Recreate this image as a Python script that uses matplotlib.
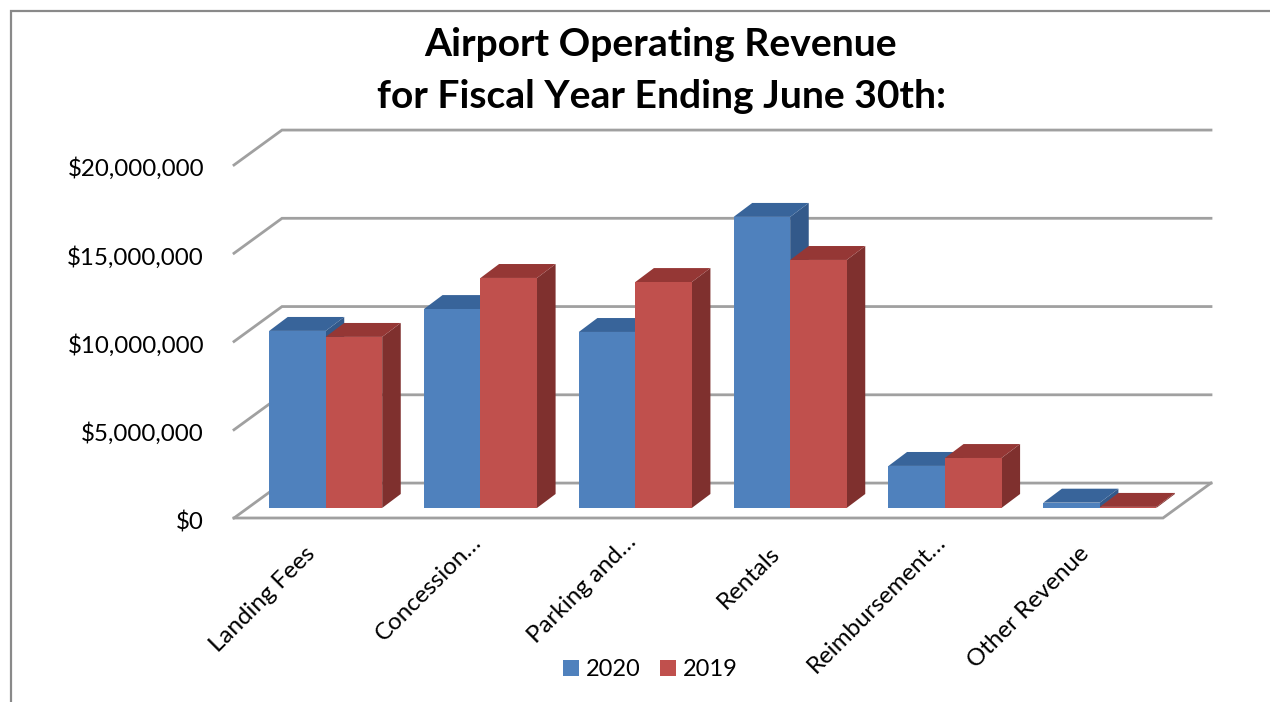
import matplotlib
matplotlib.use('Agg')
import matplotlib.pyplot as plt
from matplotlib.lines import Line2D
from matplotlib.patches import Patch
from matplotlib.ticker import FuncFormatter
from matplotlib.transforms import ScaledTranslation

categories = ['Landing Fees', 'Concession…', 'Parking and…', 'Rentals', 'Reimbursement…', 'Other Revenue']
revenue_2020 = [10030000, 11270000, 9970000, 16490000, 2380000, 300000]
revenue_2019 = [9690000, 13030000, 12800000, 14050000, 2830000, 60000]
y_ticks = [0, 5000000, 10000000, 15000000, 20000000]

BLUE = ('#4F81BD', '#38649A', '#33598A')
RED = ('#C0504D', '#953735', '#7F302E')
GRID = '#A0A0A0'

# depth of the floor and of a bar, in axis units
FLOOR_DX, FLOOR_DY = 0.31, 1980000
BAR_DX, BAR_DY = 0.12, 790000
BAR_SHIFT, BAR_BASE = 0.092, 570000
BAR_WIDTH = 0.365

plt.rcParams['font.family'] = ['Lato', 'DejaVu Sans']


def draw_bar(ax, left, value, colors):
    right = left + BAR_WIDTH
    top = BAR_BASE + value
    ax.fill([right, right + BAR_DX, right + BAR_DX, right],
            [BAR_BASE, BAR_BASE + BAR_DY, top + BAR_DY, top], color=colors[2], lw=0, clip_on=False, zorder=3)
    ax.fill([left, left + BAR_DX, right + BAR_DX, right],
            [top, top + BAR_DY, top + BAR_DY, top], color=colors[1], lw=0, clip_on=False, zorder=3)
    ax.fill([left, right, right, left],
            [BAR_BASE, BAR_BASE, top, top], color=colors[0], lw=0, clip_on=False, zorder=3)


def draw_grid(ax, n):
    for tick in y_ticks:
        ax.plot([0, FLOOR_DX, n + FLOOR_DX], [tick, tick + FLOOR_DY, tick + FLOOR_DY],
                color=GRID, lw=2.0, clip_on=False, zorder=1, solid_joinstyle='miter')
    ax.plot([0, n, n + FLOOR_DX], [0, 0, FLOOR_DY], color=GRID, lw=2.0, clip_on=False, zorder=1,
            solid_joinstyle='miter')


def nudge(labels, fig, dx_px, dy_px):
    # dy_px counts upward, offsets are given in pixels at 100 dpi
    offset = ScaledTranslation(dx_px / 100, dy_px / 100, fig.dpi_scale_trans)
    for label in labels:
        label.set_transform(label.get_transform() + offset)


def main():
    fig = plt.figure(figsize=(12.7, 7.02), dpi=100)
    ax = fig.add_axes([234 / 1270, (702 - 518) / 702, 929 / 1270, 353 / 702])
    n = len(categories)
    ax.set_xlim(0, n)
    ax.set_ylim(0, 20000000)
    for spine in ax.spines.values():
        spine.set_visible(False)

    draw_grid(ax, n)
    for i in range(n):
        center = i + 0.5 + BAR_SHIFT
        draw_bar(ax, center - BAR_WIDTH, revenue_2020[i], BLUE)
        draw_bar(ax, center, revenue_2019[i], RED)

    ax.set_yticks(y_ticks)
    ax.yaxis.set_major_formatter(FuncFormatter(lambda v, _: f'${v:,.0f}'))
    ax.tick_params(axis='y', length=0, pad=21.6, labelsize=17.4)
    ax.set_xticks([i + 0.5 for i in range(n)])
    ax.set_xticklabels(categories, rotation=45, ha='right', rotation_mode='anchor', fontsize=17.4)
    ax.tick_params(axis='x', length=0, pad=18)
    nudge(ax.get_yticklabels(), fig, 0, -2)
    nudge(ax.get_xticklabels(), fig, -7, 0)
    # truncated labels sit further along their slant
    nudge([t for t in ax.get_xticklabels() if t.get_text().endswith('…')], fig, 11, 12)

    fig.text(661 / 1270, 1 - 44 / 702, 'Airport Operating Revenue', ha='center', va='center',
             fontsize=28.1, fontweight='bold')
    fig.text(662 / 1270, 1 - 96 / 702, 'for Fiscal Year Ending June 30th:', ha='center', va='center',
             fontsize=28.1, fontweight='bold')

    handles = [Patch(facecolor=BLUE[0], lw=0, label='2020'), Patch(facecolor=RED[0], lw=0, label='2019')]
    fig.legend(handles=handles, ncol=2, frameon=False, fontsize=17, loc='center',
               bbox_to_anchor=(650.5 / 1270, 1 - 670 / 702), handlelength=0.64, handleheight=0.64,
               handletextpad=0.3, columnspacing=0.85)

    # outline along the top and left of the slide
    frame = Line2D([11 / 1270, 11 / 1270, 1], [0, 1 - 11 / 702, 1 - 11 / 702], transform=fig.transFigure,
                   color='#898989', lw=1.6, solid_joinstyle='miter')
    fig.add_artist(frame)

    fig.savefig('out.png', dpi=100)


if __name__ == "__main__":
    main()
